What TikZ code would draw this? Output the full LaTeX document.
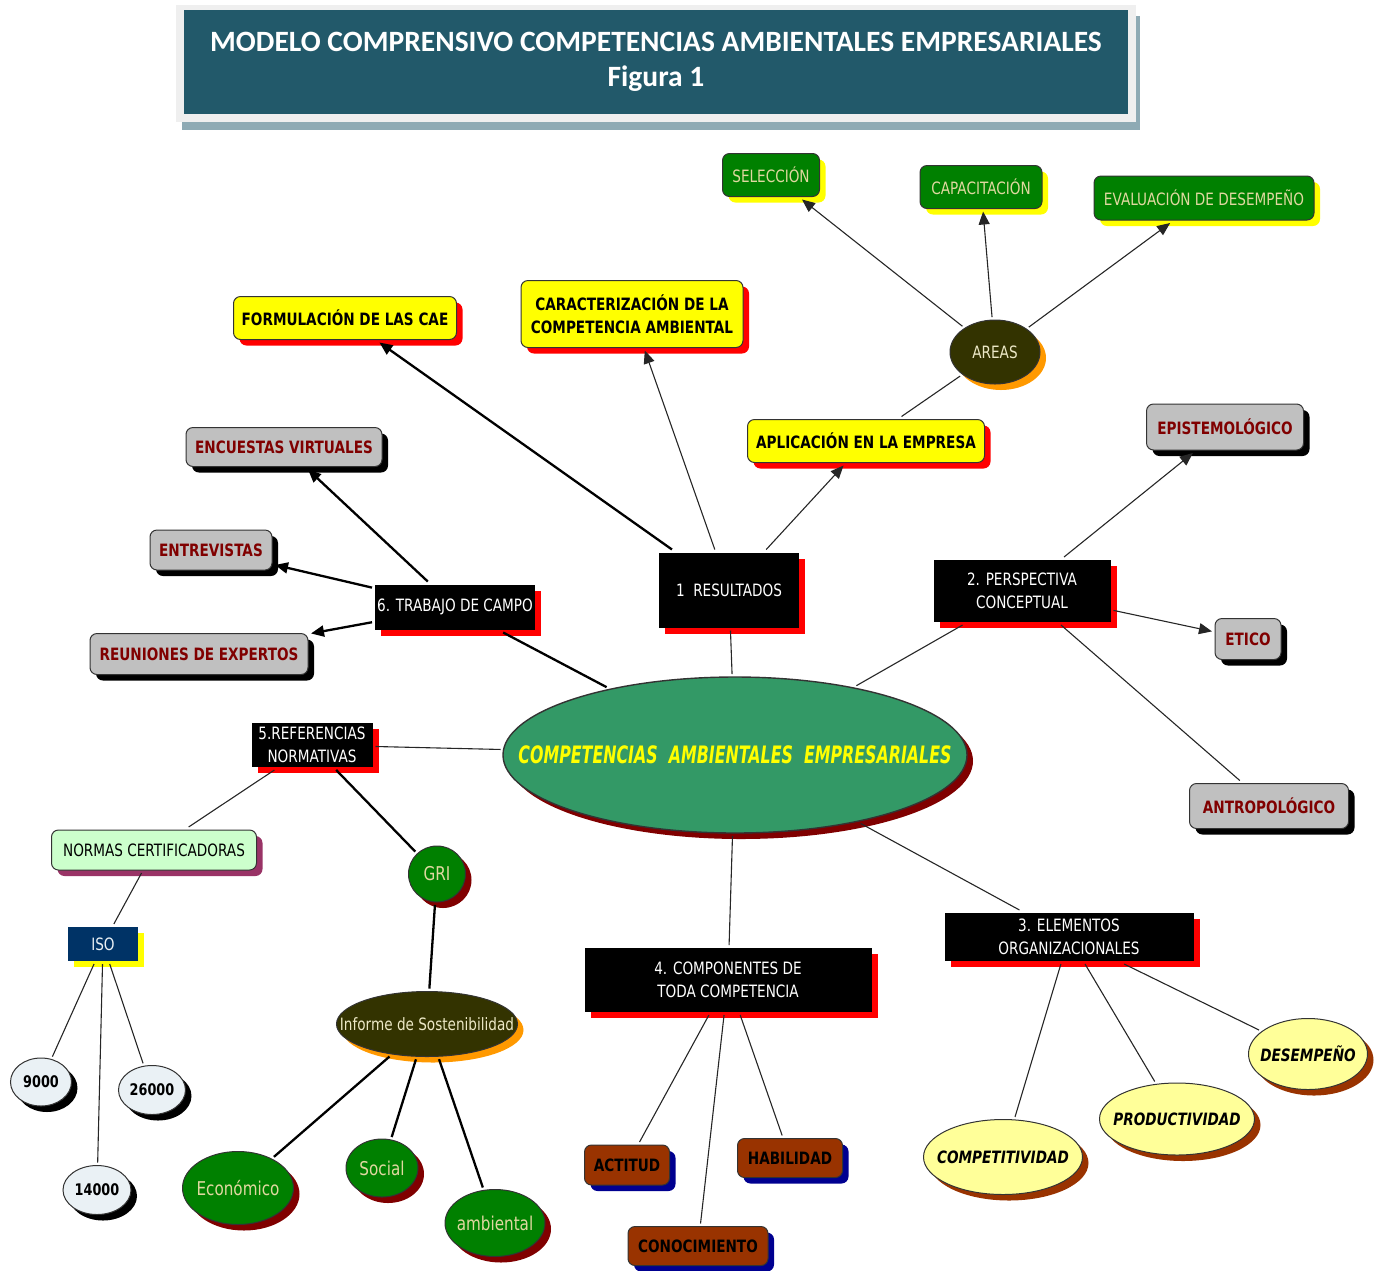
\documentclass[tikz,border=0pt]{standalone}
\usepackage{fontspec}
\setmainfont{DejaVu Sans}[FakeStretch=0.8]
\newfontfamily\hubfont{DejaVu Sans}[FakeStretch=0.66]
\newfontfamily\titlefont{Carlito}
\usetikzlibrary{arrows.meta,shapes.geometric,shadows}
\definecolor{TitleTeal}{HTML}{22596A}
\definecolor{TitleFrame}{HTML}{EFEFEF}
\definecolor{TitleShade}{HTML}{8EAAB4}
\definecolor{MapGreen}{HTML}{008000}
\definecolor{MapKhaki}{HTML}{E0D8A0}
\definecolor{MapOlive}{HTML}{333300}
\definecolor{MapOrange}{HTML}{FF9900}
\definecolor{MapYellow}{HTML}{FFFF00}
\definecolor{MapRed}{HTML}{FF0000}
\definecolor{MapGray}{HTML}{C0C0C0}
\definecolor{MapMaroon}{HTML}{800000}
\definecolor{HubGreen}{HTML}{339966}
\definecolor{MintBg}{HTML}{CCFFCC}
\definecolor{PlumShade}{HTML}{993366}
\definecolor{IsoNavy}{HTML}{003366}
\definecolor{IsoPale}{HTML}{EAF1F5}
\definecolor{MapBrown}{HTML}{993300}
\definecolor{MapNavy}{HTML}{000090}
\definecolor{PaleYellow}{HTML}{FFFF99}
% keeps a long label from widening its ellipse
\newcommand\snug[1]{\makebox[0pt]{#1}}

\begin{document}
\begin{tikzpicture}[x=1pt,y=-1pt,
  base/.style={inner sep=0pt, outer sep=3pt, align=center, line width=1pt},
  shade/.style={general shadow={fill=#1, shadow xshift=6pt, shadow yshift=-6pt}},
  gbox/.style={base, rounded corners=7pt, fill=MapGreen, draw=black!80, text=MapKhaki,
               shade=MapYellow, font=\fontsize{17}{22}\selectfont},
  ybox/.style={base, rounded corners=7pt, fill=MapYellow, draw=black!80,
               shade=MapRed, font=\bfseries\fontsize{17}{23}\selectfont},
  kbox/.style={base, fill=black, text=white, shade=MapRed, font=\fontsize{17}{22.5}\selectfont},
  graybox/.style={base, rounded corners=7pt, fill=MapGray, draw=black!80, text=MapMaroon,
                  shade=black, font=\bfseries\fontsize{17}{22}\selectfont},
  brownbox/.style={base, rounded corners=7pt, fill=MapBrown, draw=black!80,
                   shade=MapNavy, font=\bfseries\fontsize{17}{22}\selectfont},
  oval/.style={base, ellipse, draw=black!80},
  olive/.style={oval, fill=MapOlive, text=MapKhaki!60!white, shade=MapOrange,
                font=\fontsize{17}{22}\selectfont},
  leaf/.style={oval, fill=MapGreen, text=MapKhaki, shade=MapMaroon, font=\fontsize{19}{22}\selectfont},
  num/.style={oval, fill=IsoPale, shade=black, font=\bfseries\fontsize{16}{22}\selectfont},
  orgoval/.style={oval, fill=PaleYellow, shade=MapBrown, font=\bfseries\itshape\fontsize{17}{22}\selectfont},
  thin/.style={line width=1.1pt, draw=black!85},
  thick/.style={line width=2.3pt},
  arr/.style={-{Triangle[length=13pt,width=11pt]}}]
  \useasboundingbox (0,0) rectangle (1381,1270);

  % title banner
  \fill[TitleShade] (182,16) rectangle (1140,130);
  \fill[TitleFrame] (176,5) rectangle (1136,122);
  \node[fill=TitleTeal, text=white, minimum width=944pt, minimum height=104pt, inner sep=0pt,
        align=center, font=\titlefont\bfseries\fontsize{29.5}{35}\selectfont] (ttl) at (656,62)
    {MODELO COMPRENSIVO COMPETENCIAS AMBIENTALES EMPRESARIALES\\Figura 1};

  % centre
  \node[oval, fill=HubGreen, line width=1.4pt, shade=MapMaroon, minimum width=464pt, minimum height=156pt,
        text=MapYellow, font=\hubfont\bfseries\itshape\fontsize{24}{26}\selectfont] (hub) at (735,755)
    {\snug{COMPETENCIAS\ \ AMBIENTALES\ \ EMPRESARIALES}};

  % 1 resultados
  \node[kbox, minimum width=140pt, minimum height=75pt] (res) at (729,590) {1\ \ RESULTADOS};
  \node[ybox, minimum width=223pt, minimum height=43pt] (form) at (345,318) {FORMULACIÓN DE LAS CAE};
  \node[ybox, minimum width=222pt, minimum height=67pt] (car) at (632,314) {CARACTERIZACIÓN DE LA\\COMPETENCIA AMBIENTAL};
  \node[ybox, minimum width=237pt, minimum height=43pt] (apl) at (866,441) {APLICACIÓN EN LA EMPRESA};
  \node[olive, minimum width=90pt, minimum height=64pt] (areas) at (995,352) {AREAS};
  \node[gbox, minimum width=97pt, minimum height=43pt] (sel) at (771,175) {SELECCIÓN};
  \node[gbox, minimum width=122pt, minimum height=43pt] (capa) at (981,187) {CAPACITACIÓN};
  \node[gbox, minimum width=220pt, minimum height=44pt] (eval) at (1204,198) {EVALUACIÓN DE DESEMPEÑO};

  % 2 perspectiva
  \node[kbox, minimum width=177pt, minimum height=62pt] (per) at (1022,591) {2. PERSPECTIVA\\CONCEPTUAL};
  \node[graybox, minimum width=157pt, minimum height=46pt] (epi) at (1225,427) {EPISTEMOLÓGICO};
  \node[graybox, minimum width=66pt, minimum height=41pt] (eti) at (1248,639) {ETICO};
  \node[graybox, minimum width=159pt, minimum height=45pt] (ant) at (1269,806) {ANTROPOLÓGICO};

  % 6 trabajo de campo
  \node[kbox, minimum width=160pt, minimum height=45pt] (tra) at (455,607) {6. TRABAJO DE CAMPO};
  \node[graybox, minimum width=196pt, minimum height=39pt] (enc) at (284,447) {ENCUESTAS VIRTUALES};
  \node[graybox, minimum width=122pt, minimum height=40pt] (ent) at (211,550) {ENTREVISTAS};
  \node[graybox, minimum width=218pt, minimum height=41pt] (reu) at (199,654) {REUNIONES DE EXPERTOS};

  % 5 referencias
  \node[kbox, minimum width=121pt, minimum height=44pt] (ref) at (312,745) {5.REFERENCIAS\\NORMATIVAS};
  \node[base, rounded corners=7pt, fill=MintBg, draw=black!80, shade=PlumShade,
        minimum width=205pt, minimum height=40pt, font=\fontsize{17}{22}\selectfont] (nor) at (154,850) {NORMAS CERTIFICADORAS};
  \node[base, fill=IsoNavy, text=IsoPale, shade=MapYellow, minimum width=70pt, minimum height=34pt,
        font=\fontsize{17}{22}\selectfont] (iso) at (103,944) {ISO};
  \node[num, minimum width=61pt, minimum height=48pt] (n9) at (41,1082) {9000};
  \node[num, minimum width=67pt, minimum height=49pt] (n26) at (152,1090) {26000};
  \node[num, minimum width=68pt, minimum height=49pt] (n14) at (97,1190) {14000};
  \node[leaf, minimum width=57pt, minimum height=56pt] (gri) at (437,874) {GRI};
  \node[olive, minimum width=181pt, minimum height=65pt] (inf) at (427,1024) {\snug{Informe de Sostenibilidad}};
  \node[leaf, minimum width=111pt, minimum height=73pt] (eco) at (238,1188) {\snug{Económico}};
  \node[leaf, minimum width=72pt, minimum height=58pt] (soc) at (382,1168) {\snug{Social}};
  \node[leaf, minimum width=100pt, minimum height=67pt] (amb) at (495,1223) {\snug{ambiental}};

  % 4 componentes
  \node[kbox, minimum width=287pt, minimum height=64pt] (comp) at (728,980) {4. COMPONENTES DE\\TODA COMPETENCIA};
  \node[brownbox, minimum width=85pt, minimum height=40pt] (act) at (627,1165) {ACTITUD};
  \node[brownbox, minimum width=105pt, minimum height=39pt] (hab) at (790,1158) {HABILIDAD};
  \node[brownbox, minimum width=140pt, minimum height=39pt] (con) at (698,1246) {CONOCIMIENTO};

  % 3 elementos
  \node[kbox, minimum width=249pt, minimum height=48pt] (ele) at (1069,937) {3. ELEMENTOS\\ORGANIZACIONALES};
  \node[orgoval, minimum width=159pt, minimum height=75pt] (cpt) at (1003,1157) {\snug{COMPETITIVIDAD}};
  \node[orgoval, minimum width=155pt, minimum height=72pt] (pro) at (1177,1119) {\snug{PRODUCTIVIDAD}};
  \node[orgoval, minimum width=119pt, minimum height=71pt] (des) at (1308,1054) {\snug{DESEMPEÑO}};

  % connectors
  \draw[thin] (hub) -- (res);
  \draw[thin] (hub) -- (per);
  \draw[thin] (hub) -- (ref);
  \draw[thin] (hub) -- (comp);
  \draw[thin] (hub) -- (ele);
  \draw[thick] (hub) -- (tra);
  \draw[thick,arr] (res) -- (form);
  \draw[thin,arr] (res) -- (car);
  \draw[thin,arr] (res) -- (apl);
  \draw[thin] (apl) -- (areas);
  \draw[thin,arr] (areas) -- (sel);
  \draw[thin,arr] (areas) -- (capa);
  \draw[thin,arr] (areas) -- (eval);
  \draw[thin,arr] (per) -- (epi);
  \draw[thin,arr] (per) -- (eti);
  \draw[thin] (per) -- (ant);
  \draw[thick,arr] (tra) -- (enc);
  \draw[thick,arr] (tra) -- (ent);
  \draw[thick,arr] (tra) -- (reu);
  \draw[thin] (ref) -- (nor);
  \draw[thin] (nor) -- (iso);
  \draw[thin] (iso) -- (n9);
  \draw[thin] (iso) -- (n14);
  \draw[thin] (iso) -- (n26);
  \draw[thick] (ref) -- (gri);
  \draw[thick] (gri) -- (inf);
  \draw[thick] (inf) -- (eco);
  \draw[thick] (inf) -- (soc);
  \draw[thick] (inf) -- (amb);
  \draw[thin] (comp) -- (act);
  \draw[thin] (comp) -- (con);
  \draw[thin] (comp) -- (hab);
  \draw[thin] (ele) -- (cpt);
  \draw[thin] (ele) -- (pro);
  \draw[thin] (ele) -- (des);
\end{tikzpicture}
\end{document}
